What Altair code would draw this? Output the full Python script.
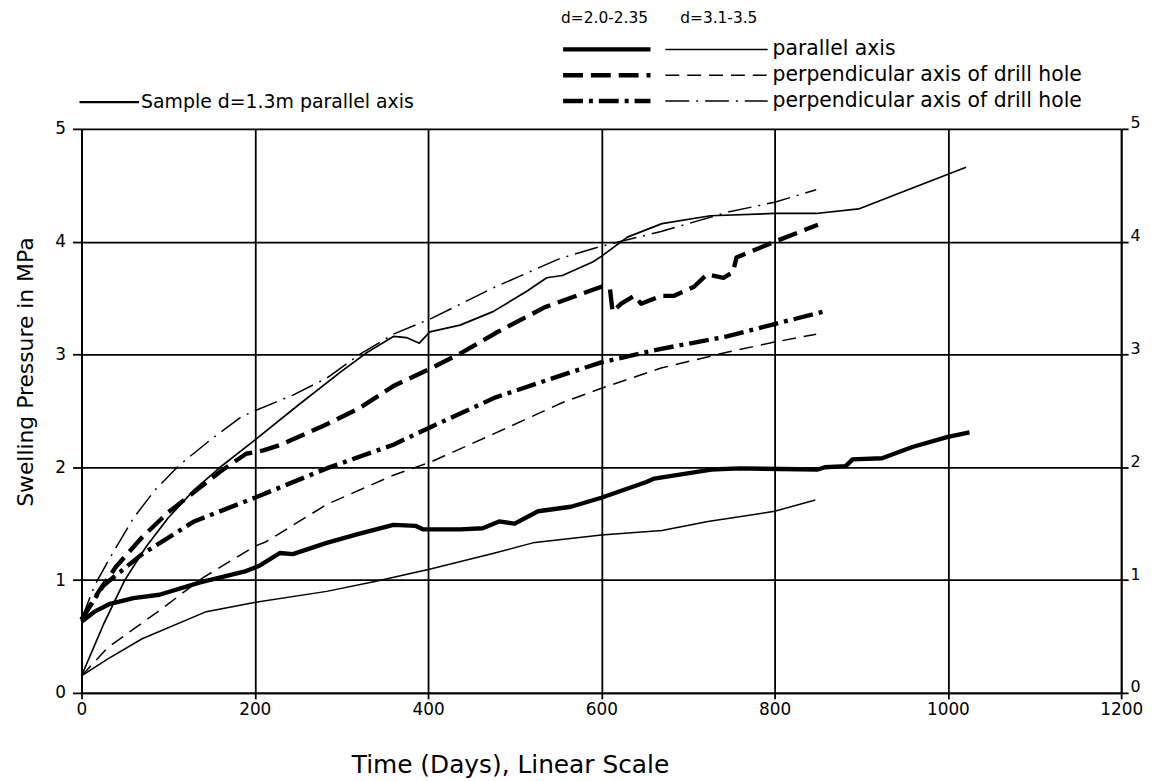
import altair as alt
import pandas as pd

# ---------------- data ----------------
sample_days = [0, 25, 50, 75, 100, 130, 160, 200, 250, 300, 330, 360, 375, 390, 402, 437, 475, 514, 537, 555, 590, 600, 630, 670, 726, 800, 848, 897, 954, 1021]
sample_mpa = [0.15, 0.6, 1.0, 1.3, 1.55, 1.8, 2.0, 2.24, 2.55, 2.85, 3.02, 3.16, 3.15, 3.1, 3.2, 3.26, 3.38, 3.56, 3.68, 3.70, 3.82, 3.87, 4.04, 4.16, 4.23, 4.25, 4.25, 4.29, 4.46, 4.66]

par_thick_days = [0, 15, 33, 60, 90, 137, 190, 206, 229, 244, 283, 320, 360, 386, 394, 437, 463, 482, 500, 527, 565, 600, 652, 661, 727, 760, 850, 858, 882, 890, 924, 959, 1000, 1025]
par_thick_mpa = [0.63, 0.72, 0.79, 0.84, 0.87, 0.98, 1.08, 1.13, 1.24, 1.23, 1.33, 1.41, 1.49, 1.48, 1.45, 1.45, 1.46, 1.52, 1.5, 1.61, 1.65, 1.73, 1.87, 1.9, 1.98, 1.99, 1.98, 2.0, 2.01, 2.07, 2.08, 2.18, 2.27, 2.31]

perp1_thick_days = [0, 20, 40, 70, 100, 130, 160, 190, 210, 230, 280, 320, 360, 404, 440, 478, 535, 600, 610, 613, 623, 638, 646, 669, 684, 707, 722, 741, 752, 756, 800, 850]
perp1_thick_mpa = [0.65, 0.9, 1.12, 1.38, 1.6, 1.78, 1.96, 2.12, 2.15, 2.2, 2.37, 2.52, 2.72, 2.88, 3.02, 3.19, 3.42, 3.6, 3.58, 3.38, 3.45, 3.52, 3.45, 3.52, 3.52, 3.6, 3.71, 3.68, 3.73, 3.86, 4.0, 4.15]

perp2_thick_days = [0, 25, 70, 130, 200, 283, 360, 404, 478, 552, 600, 669, 745, 800, 857]
perp2_thick_mpa = [0.65, 0.95, 1.23, 1.52, 1.73, 1.99, 2.2, 2.36, 2.62, 2.81, 2.93, 3.05, 3.16, 3.27, 3.38]

par_thin_days = [0, 30, 70, 144, 198, 283, 340, 404, 477, 521, 600, 670, 723, 800, 847]
par_thin_mpa = [0.15, 0.3, 0.48, 0.72, 0.8, 0.9, 0.99, 1.1, 1.24, 1.33, 1.4, 1.44, 1.52, 1.61, 1.71]

perp1_thin_days = [0, 30, 90, 140, 200, 213, 283, 360, 404, 477, 554, 600, 669, 745, 800, 848]
perp1_thin_mpa = [0.15, 0.4, 0.73, 1.02, 1.3, 1.34, 1.67, 1.93, 2.05, 2.3, 2.57, 2.7, 2.88, 3.02, 3.11, 3.18]

perp2_thin_days = [0, 15, 33, 60, 85, 113, 150, 185, 200, 244, 283, 321, 360, 404, 475, 552, 600, 669, 745, 800, 848]
perp2_thin_mpa = [0.65, 0.95, 1.2, 1.55, 1.8, 2.02, 2.25, 2.45, 2.5, 2.64, 2.79, 3.0, 3.18, 3.32, 3.59, 3.85, 3.96, 4.09, 4.26, 4.35, 4.46]

x_ticks = [0, 200, 400, 600, 800, 1000, 1200]
y_ticks = [0, 1, 2, 3, 4, 5]

header_labels = ["d=2.0-2.35", "d=3.1-3.5"]
legend_labels = ["parallel axis", "perpendicular axis of drill hole", "perpendicular axis of drill hole"]
sample_label = "Sample d=1.3m parallel axis"
x_title = "Time (Days), Linear Scale"
y_title = "Swelling Pressure in MPa"

# ---------------- chart ----------------
FONT = "DejaVu Sans"
W, H = 1047, 568
THICK, THIN = 4.4, 1.5
DASH_THICK = [20, 8]
DASH_THIN = [14, 8]
DOT_THICK = [20, 6, 4, 6]
DOT_THIN = [24, 7, 2, 7]

XS = alt.Scale(domain=[0, 1200], nice=False)
YS = alt.Scale(domain=[0, 5], nice=False)


def df(days, vals):
    return pd.DataFrame({"day": days, "mpa": vals})


def line(days, vals, width, dash=None):
    props = dict(color="black", strokeWidth=width, strokeCap="butt", strokeJoin="round")
    if dash:
        props["strokeDash"] = dash
    return alt.Chart(df(days, vals)).mark_line(**props).encode(
        x=alt.X("day:Q", scale=XS, axis=None),
        y=alt.Y("mpa:Q", scale=YS, axis=None),
    )


axis_common = dict(
    grid=True, gridColor="black", gridWidth=1.8, gridOpacity=1,
    domainColor="black", domainWidth=1.8, tickColor="black", tickWidth=1.8,
    labelFont=FONT, labelFontSize=17, labelColor="black", title=None,
)

frame = alt.Chart(df(sample_days, sample_mpa)).mark_point(opacity=0).encode(
    x=alt.X("day:Q", scale=XS, axis=alt.Axis(values=x_ticks, format="d", tickSize=6, labelPadding=3,
                                              labelFlush=False, labelOverlap=False, **axis_common)),
    y=alt.Y("mpa:Q", scale=YS, axis=alt.Axis(values=y_ticks, tickSize=9, labelPadding=7,
                                              orient="left", **axis_common)),
)

right_axis = alt.Chart(df(sample_days, sample_mpa)).mark_point(opacity=0).encode(
    x=alt.X("day:Q", scale=XS, axis=None),
    y=alt.Y("mpa:Q", scale=YS, axis=alt.Axis(values=y_ticks, orient="right", grid=False, tickSize=7,
                                              labelPadding=2, labelBaseline="alphabetic", labelOffset=-1,
                                              domainColor="black", domainWidth=1.8, tickColor="black",
                                              tickWidth=1.8, labelFont=FONT, labelFontSize=16,
                                              labelColor="black", title=None)),
)

curves = [
    line(par_thin_days, par_thin_mpa, THIN),
    line(perp1_thin_days, perp1_thin_mpa, THIN, DASH_THIN),
    line(perp2_thin_days, perp2_thin_mpa, THIN, DOT_THIN),
    line(sample_days, sample_mpa, THIN + 0.2),
    line(par_thick_days, par_thick_mpa, THICK),
    line(perp1_thick_days, perp1_thick_mpa, THICK, DASH_THICK),
    line(perp2_thick_days, perp2_thick_mpa, THICK, DOT_THICK),
]

one = pd.DataFrame({"k": [0]})


def text(label, px, py, size=16, angle=None, align="left"):
    props = dict(font=FONT, fontSize=size, color="black", align=align, baseline="middle")
    if angle is not None:
        props["angle"] = angle
    return alt.Chart(pd.DataFrame({"t": [label]})).mark_text(**props).encode(
        x=alt.value(px), y=alt.value(py), text="t:N")


def seg(x1, x2, py, width, dash=None):
    props = dict(color="black", strokeWidth=width, strokeCap="butt")
    if dash:
        props["strokeDash"] = dash
    return alt.Chart(one).mark_rule(**props).encode(x=alt.value(x1), x2=alt.value(x2), y=alt.value(py))


row_y = [-80, -54, -28]
thick_styles = [None, DASH_THICK, DOT_THICK]
thin_styles = [None, DASH_THIN, DOT_THIN]
legend = [
    text(header_labels[0], 483, -112, 15.5),
    text(header_labels[1], 603, -112, 15.5),
    seg(-2, 58, -27, 2.2),
    text(sample_label, 60, -27, 19),
]
for i in range(3):
    legend.append(seg(485, 573, row_y[i], THICK, thick_styles[i]))
    legend.append(seg(588, 691, row_y[i], THIN, thin_styles[i]))
    legend.append(text(legend_labels[i], 696, row_y[i], 20.5))

titles = [
    text(x_title, 432, 641, 25, align="center"),
    text(y_title, -56, 245, 22, angle=270, align="center"),
]

chart = alt.layer(frame, right_axis, *curves, *legend, *titles).resolve_axis(
    x="independent", y="independent"
).properties(
    width=W, height=H,
    autosize=alt.AutoSizeParams(type="none"),
    padding={"left": 74, "top": 119, "right": 24, "bottom": 84},
).configure_view(stroke=None).configure(background="white")

chart.save("out.html", embed_options={"renderer": "svg", "actions": False})
